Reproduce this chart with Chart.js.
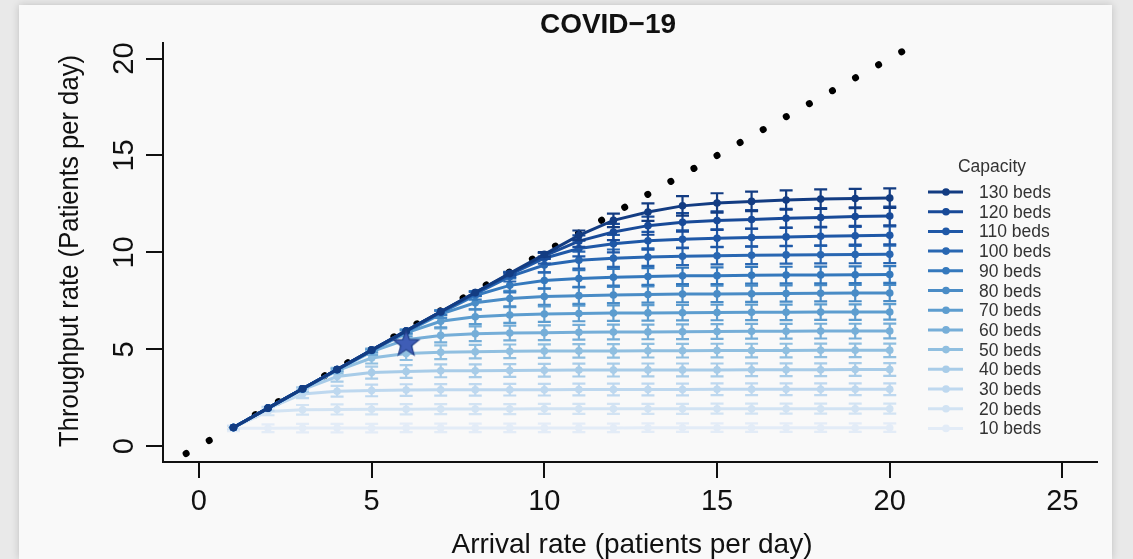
<!DOCTYPE html>
<html>
<head>
<meta charset="utf-8">
<script src="https://cdn.jsdelivr.net/npm/chart.js@4.4.1/dist/chart.umd.min.js"></script>
<style>
  body { margin: 0; background: #e9e9e9; width: 1133px; height: 559px; overflow: hidden; position: relative; }
  .panel { position: absolute; left: 19px; top: 5px; width: 1093px; height: 554px; background: #f9f9f9; box-shadow: 0 0 8px rgba(0,0,0,0.18); }
  canvas { position: absolute; left: 0; top: 0; }
</style>
</head>
<body>
<div class="panel"></div>
<canvas id="covidChart" width="1133" height="559"></canvas>
<script>
// arrival rates (patients per day)
const arrival = [1, 2, 3, 4, 5, 6, 7, 8, 9, 10, 11, 12, 13, 14, 15, 16, 17, 18, 19, 20];

const capacityLabels = ['130 beds', '120 beds', '110 beds', '100 beds', '90 beds', '80 beds', '70 beds',
                        '60 beds', '50 beds', '40 beds', '30 beds', '20 beds', '10 beds'];
const seriesColors = ['#133c82', '#184a98', '#1f58a7', '#2967b2', '#3579bd', '#4a8cc6', '#5d9dcf',
                      '#76aed8', '#90bfe0', '#a8cce8', '#bed8ef', '#d2e3f3', '#e3ecf7'];

// throughput (patients per day), one array per capacity
const beds130 = [0.97, 1.97, 2.97, 3.96, 4.96, 5.95, 6.94, 7.93, 8.92, 9.9, 10.88, 11.65, 12.08, 12.4, 12.55, 12.63, 12.7, 12.75, 12.78, 12.8];
const beds120 = [0.97, 1.97, 2.97, 3.96, 4.96, 5.95, 6.94, 7.93, 8.9, 9.82, 10.58, 11.05, 11.38, 11.55, 11.64, 11.7, 11.76, 11.8, 11.85, 11.88];
const beds110 = [0.97, 1.97, 2.97, 3.96, 4.96, 5.95, 6.93, 7.9, 8.85, 9.7, 10.2, 10.45, 10.6, 10.68, 10.73, 10.77, 10.8, 10.83, 10.86, 10.88];
const beds100 = [0.97, 1.97, 2.97, 3.96, 4.95, 5.94, 6.92, 7.86, 8.75, 9.35, 9.6, 9.7, 9.76, 9.8, 9.83, 9.85, 9.87, 9.88, 9.89, 9.9];
const beds90  = [0.97, 1.97, 2.97, 3.96, 4.95, 5.93, 6.88, 7.78, 8.3, 8.55, 8.65, 8.72, 8.76, 8.79, 8.8, 8.82, 8.83, 8.84, 8.85, 8.86];
const beds80  = [0.97, 1.97, 2.96, 3.95, 4.94, 5.9, 6.82, 7.4, 7.62, 7.72, 7.77, 7.8, 7.83, 7.85, 7.86, 7.87, 7.88, 7.89, 7.9, 7.91];
const beds70  = [0.97, 1.97, 2.96, 3.95, 4.92, 5.85, 6.45, 6.68, 6.77, 6.82, 6.85, 6.87, 6.88, 6.89, 6.9, 6.91, 6.91, 6.92, 6.92, 6.93];
const beds60  = [0.97, 1.96, 2.95, 3.93, 4.88, 5.5, 5.72, 5.8, 5.84, 5.86, 5.88, 5.89, 5.9, 5.91, 5.92, 5.93, 5.93, 5.94, 5.94, 5.95];
const beds50  = [0.97, 1.96, 2.94, 3.9, 4.55, 4.78, 4.85, 4.88, 4.9, 4.91, 4.92, 4.92, 4.93, 4.93, 4.94, 4.94, 4.94, 4.95, 4.95, 4.95];
const beds40  = [0.97, 1.95, 2.92, 3.6, 3.8, 3.86, 3.89, 3.9, 3.91, 3.92, 3.93, 3.93, 3.94, 3.94, 3.94, 3.95, 3.95, 3.95, 3.96, 3.96];
const beds30  = [0.96, 1.94, 2.7, 2.84, 2.88, 2.9, 2.91, 2.91, 2.92, 2.92, 2.93, 2.93, 2.93, 2.93, 2.94, 2.94, 2.94, 2.94, 2.94, 2.94];
const beds20  = [0.96, 1.8, 1.88, 1.9, 1.91, 1.91, 1.92, 1.92, 1.92, 1.93, 1.93, 1.93, 1.93, 1.93, 1.94, 1.94, 1.94, 1.94, 1.94, 1.94];
const beds10  = [0.93, 0.93, 0.94, 0.94, 0.94, 0.95, 0.95, 0.95, 0.95, 0.95, 0.95, 0.95, 0.96, 0.96, 0.96, 0.96, 0.96, 0.96, 0.96, 0.96];

// error bar half widths, same order
const err130 = [0, 0, 0, 0, 0, 0, 0, 0, 0.05, 0.12, 0.25, 0.35, 0.45, 0.5, 0.5, 0.5, 0.5, 0.5, 0.5, 0.5];
const err120 = [0, 0, 0, 0, 0, 0, 0, 0, 0.06, 0.15, 0.3, 0.42, 0.47, 0.48, 0.48, 0.48, 0.48, 0.48, 0.48, 0.48];
const err110 = [0, 0, 0, 0, 0, 0, 0, 0.05, 0.12, 0.28, 0.4, 0.45, 0.46, 0.46, 0.46, 0.46, 0.46, 0.46, 0.46, 0.46];
const err100 = [0, 0, 0, 0, 0, 0, 0.04, 0.1, 0.25, 0.38, 0.44, 0.45, 0.45, 0.45, 0.45, 0.45, 0.45, 0.45, 0.45, 0.45];
const err90  = [0, 0, 0, 0, 0, 0.04, 0.1, 0.22, 0.36, 0.42, 0.43, 0.43, 0.43, 0.43, 0.43, 0.43, 0.43, 0.43, 0.43, 0.43];
const err80  = [0, 0, 0, 0, 0.03, 0.08, 0.2, 0.34, 0.4, 0.42, 0.42, 0.42, 0.42, 0.42, 0.42, 0.42, 0.42, 0.42, 0.42, 0.42];
const err70  = [0, 0, 0, 0.03, 0.07, 0.18, 0.32, 0.38, 0.4, 0.4, 0.4, 0.4, 0.4, 0.4, 0.4, 0.4, 0.4, 0.4, 0.4, 0.4];
const err60  = [0, 0, 0.02, 0.06, 0.16, 0.3, 0.36, 0.38, 0.38, 0.38, 0.38, 0.38, 0.38, 0.38, 0.38, 0.38, 0.38, 0.38, 0.38, 0.38];
const err50  = [0, 0.02, 0.05, 0.14, 0.28, 0.33, 0.35, 0.35, 0.35, 0.35, 0.35, 0.35, 0.35, 0.35, 0.35, 0.35, 0.35, 0.35, 0.35, 0.35];
const err40  = [0.02, 0.04, 0.12, 0.26, 0.31, 0.33, 0.33, 0.33, 0.33, 0.33, 0.33, 0.33, 0.33, 0.33, 0.33, 0.33, 0.33, 0.33, 0.33, 0.33];
const err30  = [0.03, 0.1, 0.22, 0.28, 0.3, 0.3, 0.3, 0.3, 0.3, 0.3, 0.3, 0.3, 0.3, 0.3, 0.3, 0.3, 0.3, 0.3, 0.3, 0.3];
const err20  = [0.08, 0.2, 0.25, 0.26, 0.26, 0.26, 0.26, 0.26, 0.26, 0.26, 0.26, 0.26, 0.26, 0.26, 0.26, 0.26, 0.26, 0.26, 0.26, 0.26];
const err10  = [0.15, 0.2, 0.22, 0.22, 0.22, 0.22, 0.22, 0.22, 0.22, 0.22, 0.22, 0.22, 0.22, 0.22, 0.22, 0.22, 0.22, 0.22, 0.22, 0.22];

const throughput = [beds130, beds120, beds110, beds100, beds90, beds80, beds70, beds60, beds50, beds40, beds30, beds20, beds10];
const errors = [err130, err120, err110, err100, err90, err80, err70, err60, err50, err40, err30, err20, err10];

// y = x reference line ends, and the marked current point
const diagonalEnds = [-0.37, 20.35];
const starPoint = { x: 6, y: 5.3 };

const xTicks = [0, 5, 10, 15, 20, 25];
const yTicks = [0, 5, 10, 15, 20];

const FONT = '"Liberation Sans", Arial, Helvetica, sans-serif';

// filled star marker
function makeStar() {
    const c = document.createElement('canvas');
    c.width = 32; c.height = 32;
    const g = c.getContext('2d');
    g.beginPath();
    for (let i = 0; i < 10; i++) {
        const r = i % 2 === 0 ? 13.5 : 5.6;
        const a = -Math.PI / 2 + i * Math.PI / 5;
        const px = 16 + r * Math.cos(a), py = 16.5 + r * Math.sin(a);
        if (i === 0) g.moveTo(px, py); else g.lineTo(px, py);
    }
    g.closePath();
    g.fillStyle = '#3f5db6';
    g.fill();
    g.lineWidth = 1.2;
    g.strokeStyle = '#233f88';
    g.stroke();
    return c;
}

const datasets = [];
datasets.push({
    type: 'scatter',
    label: 'current',
    data: [starPoint],
    pointStyle: makeStar(),
    pointRadius: 14
});
throughput.forEach((vals, s) => {
    datasets.push({
        type: 'line',
        label: capacityLabels[s],
        data: arrival.map((x, i) => ({ x: x, y: vals[i] })),
        errors: errors[s],
        borderColor: seriesColors[s],
        backgroundColor: seriesColors[s],
        borderWidth: 3,
        pointRadius: 3.8,
        pointBorderWidth: 0,
        tension: 0
    });
});
datasets.push({
    type: 'line',
    label: 'diagonal',
    data: diagonalEnds.map(v => ({ x: v, y: v })),
    borderColor: '#000',
    borderWidth: 7,
    borderDash: [0.01, 26.46],
    borderCapStyle: 'round',
    pointRadius: 0
});

const errorBars = {
    id: 'errorBars',
    afterDatasetDraw(chart, args) {
        const ds = chart.data.datasets[args.index];
        if (!ds.errors) return;
        const ctx = chart.ctx;
        const xs = chart.scales.x, ys = chart.scales.y;
        ctx.save();
        ctx.strokeStyle = ds.borderColor;
        ctx.lineWidth = 2.2;
        ds.data.forEach((p, i) => {
            const e = ds.errors[i];
            const px = xs.getPixelForValue(p.x);
            const top = ys.getPixelForValue(p.y + e);
            const bot = ys.getPixelForValue(p.y - e);
            if (bot - top < 2) return;
            ctx.beginPath();
            ctx.moveTo(px, top); ctx.lineTo(px, bot);
            ctx.moveTo(px - 6.5, top); ctx.lineTo(px + 6.5, top);
            ctx.moveTo(px - 6.5, bot); ctx.lineTo(px + 6.5, bot);
            ctx.stroke();
        });
        ctx.restore();
    }
};

const textLayer = {
    id: 'textLayer',
    afterDraw(chart) {
        const ctx = chart.ctx;
        const xs = chart.scales.x, ys = chart.scales.y;
        ctx.save();
        ctx.fillStyle = '#111';

        // title
        ctx.font = 'bold 28px ' + FONT;
        ctx.textAlign = 'center';
        ctx.textBaseline = 'alphabetic';
        ctx.fillText('COVID\u221219', 608, 33);

        // x tick labels
        ctx.font = '29px ' + FONT;
        xTicks.forEach(t => ctx.fillText(String(t), xs.getPixelForValue(t), 510));

        // x title
        ctx.font = '28px ' + FONT;
        ctx.fillText('Arrival rate (patients per day)', 632, 553, 371);

        // y tick labels, rotated
        yTicks.forEach(t => {
            ctx.save();
            ctx.translate(133, ys.getPixelForValue(t));
            ctx.rotate(-Math.PI / 2);
            ctx.font = '29px ' + FONT;
            ctx.fillText(String(t), 0, 0);
            ctx.restore();
        });

        // y title
        ctx.save();
        ctx.translate(78, 251);
        ctx.rotate(-Math.PI / 2);
        ctx.font = '28px ' + FONT;
        ctx.fillText('Throughput rate (Patients per day)', 0, 0, 392);
        ctx.restore();

        // legend
        ctx.font = '17.5px ' + FONT;
        ctx.fillStyle = '#333';
        ctx.textAlign = 'center';
        ctx.fillText('Capacity', 992, 172);
        ctx.textAlign = 'left';
        capacityLabels.forEach((lab, i) => {
            const y = 192 + i * 19.7;
            ctx.strokeStyle = seriesColors[i];
            ctx.lineWidth = 3;
            ctx.beginPath();
            ctx.moveTo(928, y); ctx.lineTo(963, y);
            ctx.stroke();
            ctx.fillStyle = seriesColors[i];
            ctx.beginPath();
            ctx.arc(946, y, 3.8, 0, Math.PI * 2);
            ctx.fill();
            ctx.fillStyle = '#333';
            ctx.fillText(lab, 979, y + 6);
        });
        ctx.restore();
    }
};

new Chart(document.getElementById('covidChart'), {
    data: { datasets: datasets },
    options: {
        responsive: false,
        animation: false,
        layout: { padding: { left: 146, right: 36, top: 43, bottom: 81 } },
        plugins: { legend: { display: false }, tooltip: { enabled: false }, title: { display: false } },
        scales: {
            x: {
                type: 'linear',
                min: -1.04,
                max: 26.0,
                afterFit: s => { s.height = 16; },
                ticks: { display: false, stepSize: 5, includeBounds: false },
                grid: { drawOnChartArea: false, drawTicks: true, tickLength: 16, color: '#111', lineWidth: 2 },
                border: { display: true, color: '#111', width: 2 }
            },
            y: {
                type: 'linear',
                min: -0.81,
                max: 20.8,
                afterFit: s => { s.width = 17; },
                ticks: { display: false, stepSize: 5, includeBounds: false },
                grid: { drawOnChartArea: false, drawTicks: true, tickLength: 17, color: '#111', lineWidth: 2 },
                border: { display: true, color: '#111', width: 2 }
            }
        }
    },
    plugins: [errorBars, textLayer]
});
</script>
</body>
</html>
